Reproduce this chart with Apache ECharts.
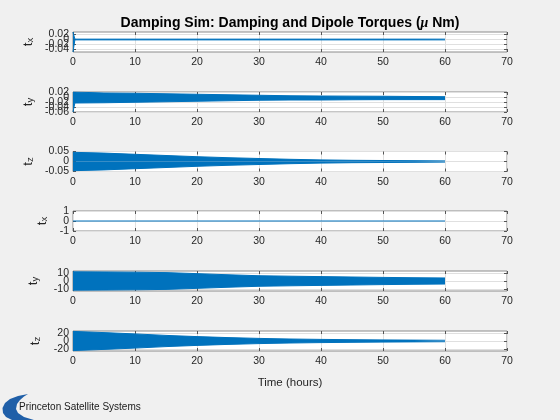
<!DOCTYPE html>
<html><head><meta charset="utf-8">
<script src="https://cdn.jsdelivr.net/npm/echarts@6.0.0/dist/echarts.min.js"></script>
<style>html,body{margin:0;padding:0;background:#f0f0f0}#c{width:560px;height:420px}</style>
</head><body><div id="c"></div>
<script>
// ---- data (envelopes of the oscillating torques) ----
const hours = [0, 0.3, 5, 10, 15, 20, 25, 30, 35, 40, 45, 50, 55, 60];

const dampTxUpper = [0.03, 0.0015, 0.0015, 0.0015, 0.0015, 0.0015, 0.0015, 0.0015, 0.0015, 0.0015, 0.0015, 0.0015, 0.0015, 0.0015];
const dampTxLower = [-0.05, -0.0015, -0.0015, -0.0015, -0.0015, -0.0015, -0.0015, -0.0015, -0.0015, -0.0015, -0.0015, -0.0015, -0.0015, -0.0015];

const dampTyUpper = [0.02, 0.016, 0.016, 0.015, 0.013, 0.011, 0.009, 0.007, 0.005, 0.004, 0.0035, 0.003, 0.002, 0.0015];
const dampTyLower = [-0.06, -0.024, -0.023, -0.021, -0.019, -0.017, -0.015, -0.013, -0.012, -0.012, -0.011, -0.0105, -0.0105, -0.0105];

const dampTzUpper = [0.046, 0.046, 0.042, 0.036, 0.030, 0.024, 0.019, 0.015, 0.011, 0.008, 0.006, 0.005, 0.004, 0.003];
const dampTzLower = [-0.046, -0.046, -0.042, -0.036, -0.030, -0.024, -0.019, -0.015, -0.011, -0.008, -0.006, -0.005, -0.004, -0.003];

const dipTx = [0, 0, 0, 0, 0, 0, 0, 0, 0, 0, 0, 0, 0, 0];

const dipTyUpper = [11.5, 11.5, 11.3, 11.0, 10.5, 9.2, 7.8, 6.6, 6.0, 5.5, 5.0, 4.5, 4.1, 3.8];
const dipTyLower = [-11.5, -11.5, -11.3, -11.0, -10.5, -9.2, -7.8, -6.6, -6.0, -5.5, -5.0, -4.5, -4.1, -3.8];

const dipTzUpper = [24, 24, 21, 17.7, 14, 11, 8.5, 6.5, 5, 4, 3.3, 2.7, 2.2, 1.8];
const dipTzLower = [-24, -24, -21, -17.7, -14, -11, -8.5, -6.5, -5, -4, -3.3, -2.7, -2.2, -1.8];

const xTicks = [0, 10, 20, 30, 40, 50, 60, 70];
const yTicksDampTx = [-0.04, -0.02, 0, 0.02];
const yTicksDampTy = [-0.06, -0.04, -0.02, 0, 0.02];
const yTicksDampTz = [-0.05, 0, 0.05];
const yTicksDipTx = [-1, 0, 1];
const yTicksDipTy = [-10, 0, 10];
const yTicksDipTz = [-20, 0, 20];

const titleText = 'Damping Sim: Damping and Dipole Torques (';
const xLabel = 'Time (hours)';
const logoText = 'Princeton Satellite Systems';

// ---- layout / styling ----
const BLUE = '#0072BD';
const TXT = '#262626';
const FONT = 'Liberation Sans, Arial, sans-serif';
const panels = [
  {sub: 'x', min: -0.05, max: 0.03, interval: 0.01, ticks: yTicksDampTx, upper: dampTxUpper, lower: dampTxLower, top: 32, gap: 38},
  {sub: 'y', min: -0.06, max: 0.02, interval: 0.02, ticks: yTicksDampTy, upper: dampTyUpper, lower: dampTyLower, top: 92, gap: 38},
  {sub: 'z', min: -0.05, max: 0.05, interval: 0.05, ticks: yTicksDampTz, upper: dampTzUpper, lower: dampTzLower, top: 151.5, gap: 38},
  {sub: 'x', min: -1, max: 1, interval: 1, ticks: yTicksDipTx, line: dipTx, top: 211, gap: 24},
  {sub: 'y', min: -12.5, max: 12.5, interval: 2.5, ticks: yTicksDipTy, upper: dipTyUpper, lower: dipTyLower, top: 271, gap: 33},
  {sub: 'z', min: -25, max: 25, interval: 5, ticks: yTicksDipTz, upper: dipTzUpper, lower: dipTzLower, top: 331, gap: 31}
];

const grids = [], xAxes = [], yAxes = [], series = [];
const zip = (a) => hours.map((h, i) => [h, a[i]]);
const tickStyle = {show: true, inside: true, length: 3, lineStyle: {color: '#555'}};

panels.forEach((p, i) => {
  grids.push({left: 73, right: 53, top: p.top, height: 20, show: true,
    backgroundColor: '#ffffff', borderColor: '#8c8c8c', borderWidth: 1});
  const last = i === panels.length - 1;
  const xi = xAxes.length;
  xAxes.push({type: 'value', gridIndex: i, min: 0, max: 70, interval: 10, position: 'bottom',
    axisLine: {show: false, onZero: false},
    axisTick: tickStyle,
    axisLabel: {show: true, fontSize: 10.5, color: TXT, margin: 5, fontFamily: FONT, hideOverlap: false,
      customValues: xTicks},
    splitLine: {show: true, lineStyle: {color: '#e0e0e0', width: 1}},
    name: last ? xLabel : '', nameLocation: 'middle', nameGap: 26,
    nameTextStyle: {fontSize: 11.5, color: TXT, fontFamily: FONT}});
  xAxes.push({type: 'value', gridIndex: i, min: 0, max: 70, interval: 10, position: 'top',
    axisLine: {show: false, onZero: false}, axisLabel: {show: false}, splitLine: {show: false},
    axisTick: tickStyle});
  const yi = yAxes.length;
  yAxes.push({type: 'value', gridIndex: i, min: p.min, max: p.max, interval: p.interval, position: 'left',
    axisLine: {show: false, onZero: false},
    axisTick: Object.assign({customValues: p.ticks}, tickStyle),
    axisLabel: {show: false},
    splitLine: {show: true, lineStyle: {color: '#e0e0e0', width: 1}},
    name: '{t|t}{s|' + p.sub + '}', nameLocation: 'middle', nameRotate: 90, nameGap: p.gap,
    nameTextStyle: {fontFamily: FONT, rich: {
      t: {fontSize: 13, color: TXT, fontFamily: FONT, verticalAlign: 'bottom', lineHeight: 16},
      s: {fontSize: 9.5, color: TXT, fontFamily: FONT, verticalAlign: 'bottom', padding: [8, 0, 0, 0]}
    }}});
  yAxes.push({type: 'value', gridIndex: i, min: p.min, max: p.max, interval: p.interval, position: 'right',
    axisLine: {show: false, onZero: false}, axisLabel: {show: false}, splitLine: {show: false},
    axisTick: Object.assign({customValues: p.ticks}, tickStyle)});
  // one label-only axis per tick value so MATLAB-style overlapping labels all stay visible
  p.ticks.forEach(v => {
    yAxes.push({type: 'value', gridIndex: i, min: p.min, max: p.max, position: 'left',
      axisLine: {show: false, onZero: false}, axisTick: {show: false}, splitLine: {show: false},
      axisLabel: {show: true, customValues: [v], fontSize: 10.5, color: TXT, margin: 4, fontFamily: FONT,
        hideOverlap: false, showMinLabel: true, showMaxLabel: true}});
  });
  if (p.line) {
    series.push({type: 'line', xAxisIndex: xi, yAxisIndex: yi, data: zip(p.line), symbol: 'none', silent: true,
      lineStyle: {color: BLUE, width: 1.2}});
  } else {
    [p.upper, p.lower].forEach(arr => {
      series.push({type: 'line', xAxisIndex: xi, yAxisIndex: yi, data: zip(arr), symbol: 'none', silent: true,
        lineStyle: {color: BLUE, width: 1}, areaStyle: {color: BLUE, opacity: 1, origin: 0}});
    });
  }
});

const chart = echarts.init(document.getElementById('c'), null, {renderer: 'canvas'});
chart.setOption({
  animation: false,
  backgroundColor: '#f0f0f0',
  title: {
    text: '{b|' + titleText + '}{m|μ}{b| Nm)}',
    left: 285, top: 11, textAlign: 'center',
    textStyle: {rich: {
      b: {fontSize: 14, fontWeight: 'bold', color: '#000', fontFamily: FONT},
      m: {fontSize: 14, fontStyle: 'italic', color: '#000', fontFamily: 'Liberation Serif, Times New Roman, serif'}
    }}
  },
  grid: grids, xAxis: xAxes, yAxis: yAxes, series: series,
  graphic: [
    {type: 'polygon', shape: {points: [[28,394],[18,396],[10,399],[5,403],[2.5,408],[3,413],[6,417],[12,420],[20,421.5],[48,421.5],[34,420],[24,417],[18,413],[16,409],[17,404],[20,400],[24,396.5]]},
      style: {fill: '#1f5fa8'}},
    {type: 'text', left: 19, top: 402, style: {text: logoText, fontSize: 10, fill: '#1a1a1a', fontFamily: FONT}}
  ]
});
</script></body></html>
